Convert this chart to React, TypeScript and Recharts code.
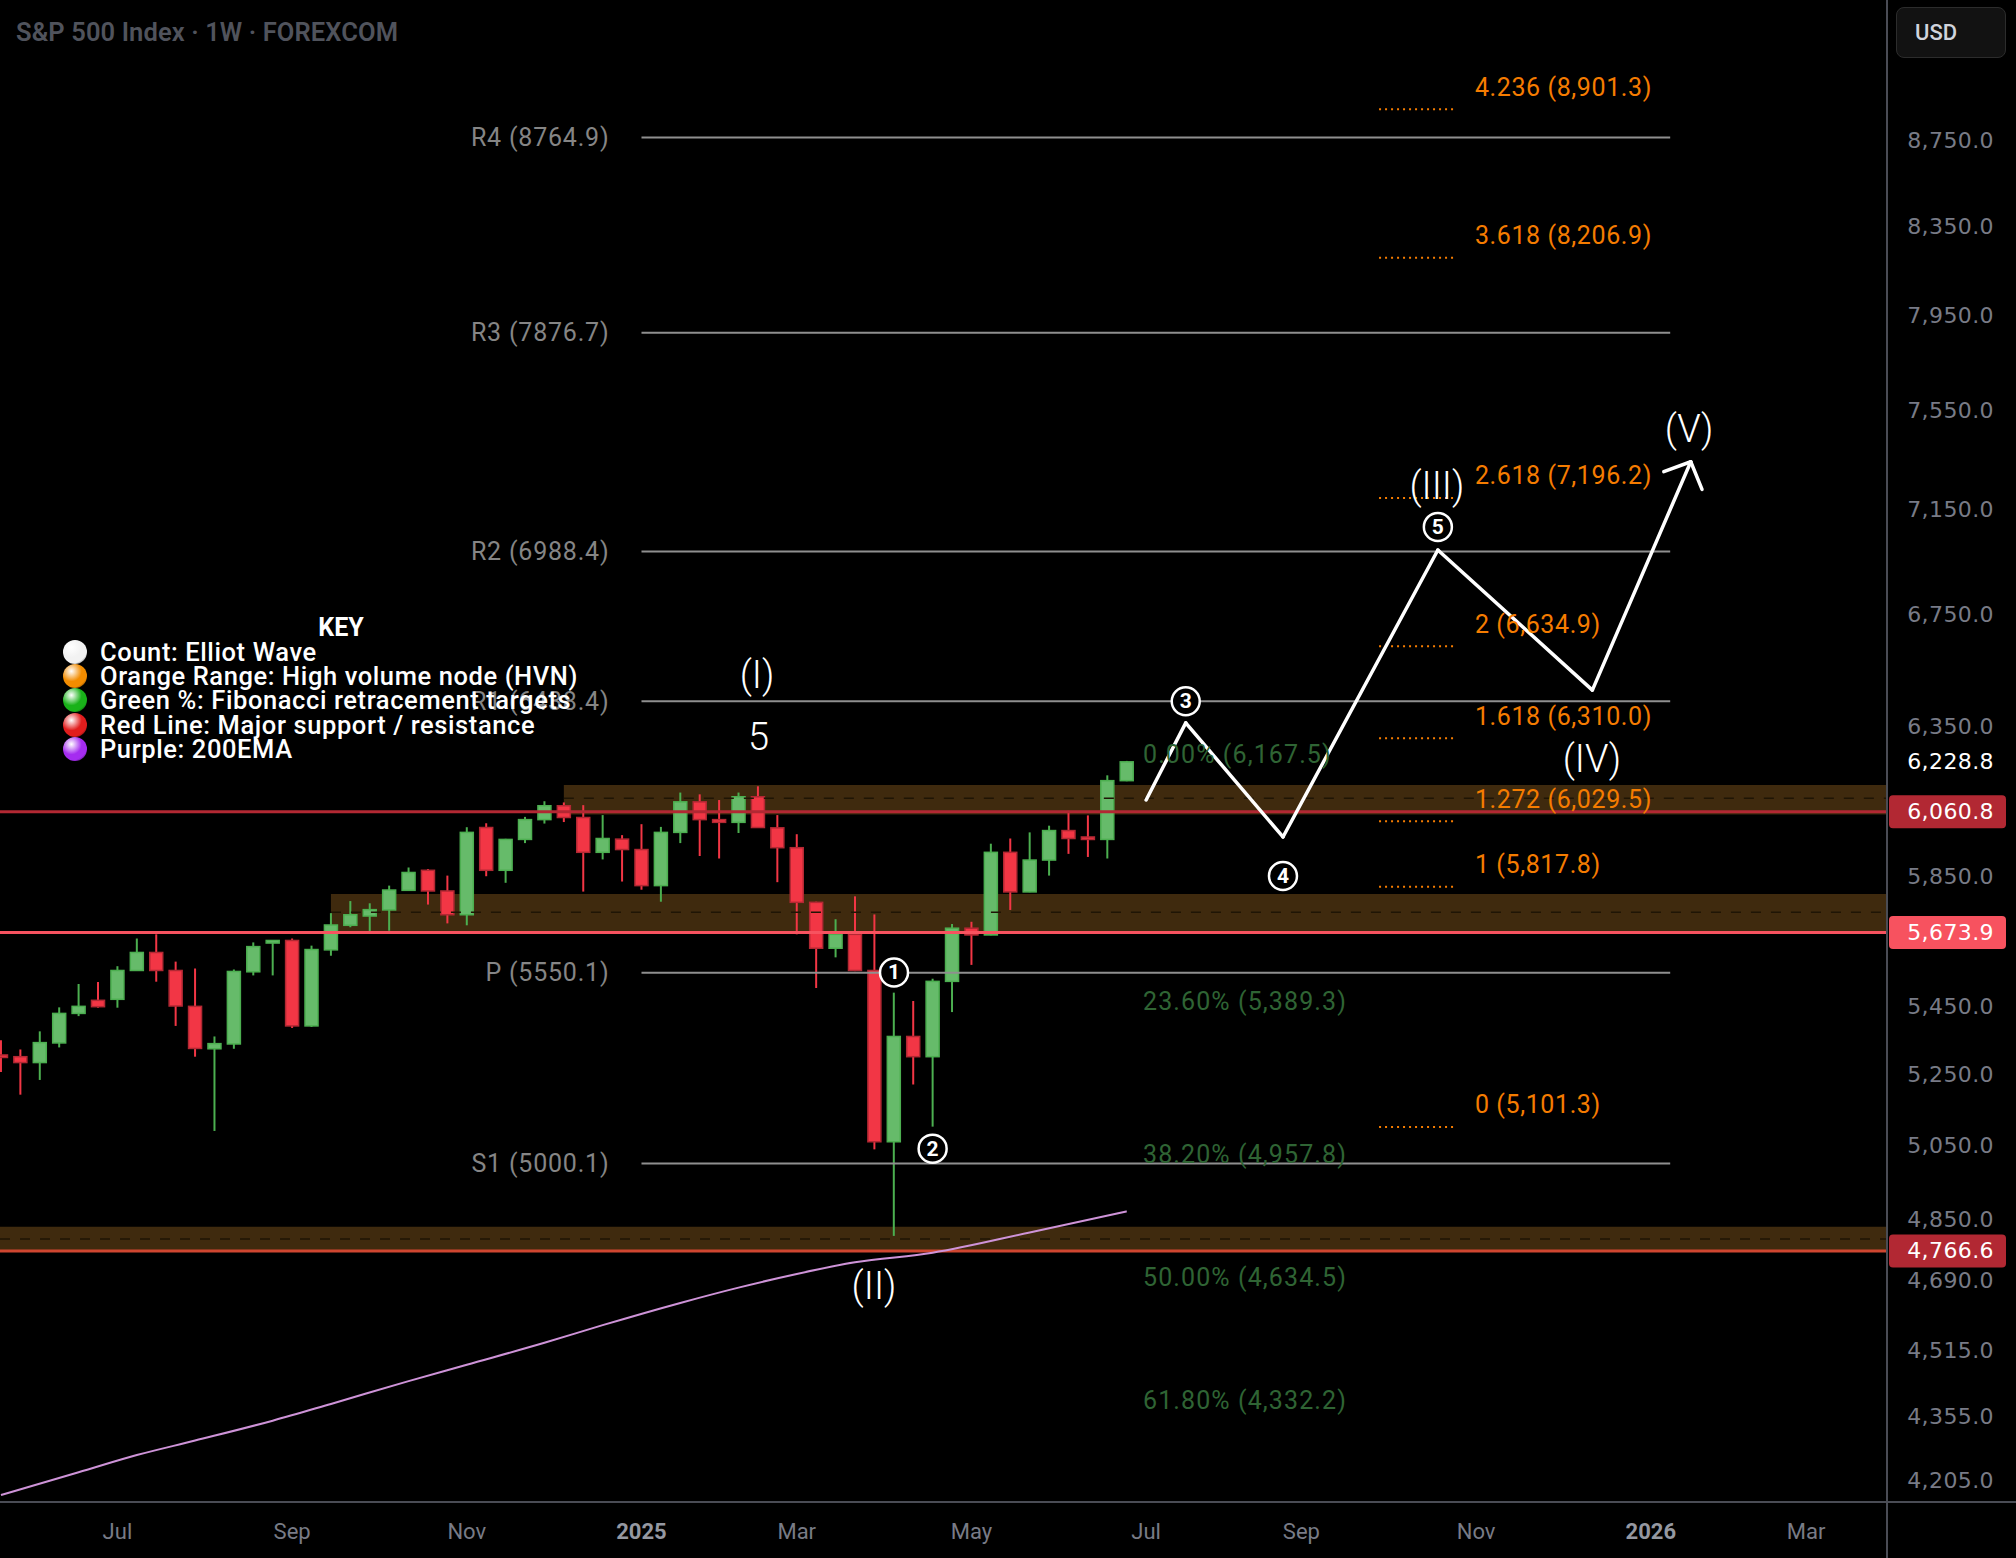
import React from 'react';
import {
  Bar,
  ComposedChart,
  Line,
  ReferenceArea,
  ReferenceLine,
  Scatter,
  XAxis,
  YAxis,
} from 'recharts';

// weekly candles, week 0 = 20 May 2024 ... week 58 = 30 Jun 2025
const opens = [
  5306, 5301, 5284, 5341, 5428, 5467, 5470, 5557, 5612, 5557, 5449, 5324, 5338, 5553, 5641,
  5649, 5391, 5620, 5696, 5725, 5744, 5806, 5870, 5804, 5729, 6009, 5870, 5970, 6035, 6081,
  6042, 5928, 5971, 5937, 5821, 5993, 6094, 6035, 6026, 6111, 6008, 5943, 5768, 5625, 5668,
  5557, 5060, 5360, 5301, 5524, 5687, 5666, 5928, 5801, 5903, 5999, 5978, 5970, 6165,
];
const highs = [
  5349, 5322, 5375, 5446, 5516, 5522, 5570, 5655, 5668, 5584, 5563, 5360, 5560, 5643, 5650,
  5655, 5633, 5734, 5772, 5765, 5821, 5879, 5874, 5853, 6010, 6023, 5972, 6044, 6096, 6092,
  6083, 6050, 5984, 6020, 6011, 6125, 6119, 6100, 6125, 6146, 6050, 5987, 5770, 5715, 5787,
  5730, 5490, 5465, 5532, 5700, 5707, 5956, 5973, 5993, 6015, 6064, 6049, 6183, 6232,
];
const lows = [
  5257, 5192, 5234, 5328, 5420, 5445, 5445, 5556, 5523, 5391, 5301, 5090, 5324, 5542, 5542,
  5385, 5388, 5602, 5690, 5674, 5679, 5805, 5761, 5702, 5696, 5851, 5830, 5958, 6022, 6027,
  5802, 5905, 5834, 5808, 5770, 5958, 5916, 5908, 5991, 6008, 5832, 5668, 5504, 5597, 5555,
  5039, 4806, 5221, 5102, 5432, 5574, 5665, 5744, 5800, 5853, 5923, 5913, 5908, 6163,
];
const closes = [
  5303, 5284, 5342, 5428, 5449, 5448, 5557, 5612, 5557, 5450, 5325, 5339, 5554, 5630, 5649,
  5391, 5621, 5697, 5729, 5745, 5807, 5863, 5804, 5729, 5993, 5870, 5970, 6035, 6081, 6042,
  5928, 5973, 5937, 5821, 5993, 6094, 6035, 6026, 6111, 6009, 5943, 5768, 5625, 5668, 5557,
  5060, 5360, 5301, 5524, 5687, 5666, 5928, 5801, 5903, 5999, 5973, 5975, 6165, 6228.8,
];

const monthTicks = [6, 15, 24, 33, 41, 50, 59, 67, 76, 85, 93];
const monthLabels = ['Jul', 'Sep', 'Nov', '2025', 'Mar', 'May', 'Jul', 'Sep', 'Nov', '2026', 'Mar'];

const priceTicks = [
  8750, 8350, 7950, 7550, 7150, 6750, 6350, 5850, 5450, 5250, 5050, 4850, 4690, 4515, 4355, 4205,
];

// 200 EMA
const emaWeeks = [0, 4, 7, 10, 14, 17, 21, 24, 28, 31, 35, 38, 41, 44, 48, 53, 58];
const emaValues = [
  4171, 4223, 4263, 4297, 4344, 4384, 4439, 4479, 4533, 4577, 4633, 4672, 4707, 4737, 4762, 4815,
  4871,
];

// projected elliott wave path
const waveWeeks = [59, 61.04, 66.05, 74.03, 81.99, 87.06];
const waveValues = [6100, 6363, 5978, 6994, 6478, 7340];
const arrowWeeks = [85.67, 87.06, 87.64];
const arrowValues = [7300, 7340, 7230];

const pivotNames = ['R4', 'R3', 'R2', 'R1', 'P', 'S1'];
const pivotValues = [8764.9, 7876.7, 6988.4, 6438.4, 5550.1, 5000.1];
const pivotFrom = 33;
const pivotTo = 86;

const redLevels = [6060.8, 5673.9, 4766.6];
const lastPrice = 6228.8;

const hvnFrom = [29, 17, -0.05];
const hvnLow = [6052, 5675, 4768];
const hvnHigh = [6150, 5794, 4830];
const hvnMid = [6106, 5737, 4798];

const retraceNames = ['0.00%', '23.60%', '38.20%', '50.00%', '61.80%'];
const retraceValues = [6167.5, 5389.3, 4957.8, 4634.5, 4332.2];

const extNames = ['4.236', '3.618', '2.618', '2', '1.618', '1.272', '1', '0'];
const extValues = [8901.3, 8206.9, 7196.2, 6634.9, 6310.0, 6029.5, 5817.8, 5101.3];

const waveNames = ['(I)', '5', '(II)', '(III)', '(IV)', '(V)'];
const waveLabelWeeks = [38.95, 39.03, 44.98, 73.98, 81.97, 86.97];
const waveLabelValues = [6531, 6315, 4677, 7243, 6240, 7471];

const countNames = ['1', '2', '3', '4', '5'];
const countWeeks = [46.01, 48.0, 61.04, 66.05, 74.03];
const countValues = [5551, 5041, 6439, 5852, 7083];

const keyItems = [
  { text: 'Count: Elliot Wave', color: '#f2f2f2' },
  { text: 'Orange Range: High volume node (HVN)', color: '#f28c00' },
  { text: 'Green %: Fibonacci retracement targets', color: '#19b219' },
  { text: 'Red Line: Major support / resistance', color: '#e11d1d' },
  { text: 'Purple: 200EMA', color: '#a52cf0' },
];

const X_DOMAIN: [number, number] = [-0.05, 97.17];
const Y_DOMAIN: [number, number] = [4155, 9449];

const candles = opens.map((o, i) => ({
  i,
  o,
  h: highs[i],
  l: lows[i],
  c: closes[i],
  range: [lows[i], highs[i]],
}));
const emaData = emaWeeks.map((i, k) => ({ i, v: emaValues[k] }));
const toPoints = (xs: number[], ys: number[]) => xs.map((x, k) => ({ x, y: ys[k] }));
const wavePoints = toPoints(waveWeeks, waveValues);
const arrowPoints = toPoints(arrowWeeks, arrowValues);
const pivotLabelData = pivotNames.map((n, k) => ({
  i: 31.35,
  v: pivotValues[k],
  text: `${n} (${pivotValues[k].toFixed(1)})`,
}));
const fmt = (v: number) =>
  v.toLocaleString('en-US', { minimumFractionDigits: 1, maximumFractionDigits: 1 });
const retraceData = retraceNames.map((n, k) => ({
  i: 58.84,
  v: retraceValues[k],
  text: `${n} (${fmt(retraceValues[k])})`,
}));
const extData = extNames.map((n, k) => ({
  i: 75.94,
  v: extValues[k],
  text: `${n} (${fmt(extValues[k])})`,
}));
const waveLabelData = waveNames.map((n, k) => ({
  i: waveLabelWeeks[k],
  v: waveLabelValues[k],
  text: n,
}));
const countData = countNames.map((n, k) => ({ i: countWeeks[k], v: countValues[k], text: n }));

const UP = '#66bb6a';
const UP_EDGE = '#4caf50';
const DOWN = '#f23645';
const DOWN_EDGE = '#b22833';
const BODY_W = 13;
const AXIS_TEXT = '#787b86';
const LABEL_FONT = 'Roboto, "DejaVu Sans", sans-serif';
const AXIS_FONT = '"DejaVu Sans", sans-serif';

const Candle = (props: any) => {
  const { x, y, width, height, payload } = props;
  if (!payload || height == null) return null;
  const { o, h, l, c } = payload;
  const span = Math.log(h) - Math.log(l) || 1;
  const toY = (v: number) => y + (height * (Math.log(h) - Math.log(v))) / span;
  const up = c >= o;
  const mid = x + (width || 0) / 2;
  const top = toY(Math.max(o, c));
  const bottom = toY(Math.min(o, c));
  return (
    <g>
      <line x1={mid} x2={mid} y1={y} y2={y + height} stroke={up ? UP_EDGE : DOWN} strokeWidth={2} />
      <rect
        x={mid - BODY_W / 2}
        y={top}
        width={BODY_W}
        height={Math.max(bottom - top, 2.5)}
        fill={up ? UP : DOWN}
        stroke={up ? UP_EDGE : DOWN_EDGE}
        strokeWidth={1.5}
      />
    </g>
  );
};

const textMark =
  (fill: string, size: number, anchor: 'start' | 'middle' | 'end', dy: number, weight = 400, spacing = 0) =>
  (props: any) => (
    <text
      x={props.cx}
      y={props.cy + dy}
      fill={fill}
      fontSize={size}
      fontWeight={weight}
      fontFamily={LABEL_FONT}
      letterSpacing={spacing}
      textAnchor={anchor}
      dominantBaseline="central"
    >
      {props.payload.text}
    </text>
  );

const CountMark = (props: any) => (
  <g>
    <circle cx={props.cx} cy={props.cy} r={14} fill="#000" stroke="#fff" strokeWidth={2.5} />
    <text
      x={props.cx}
      y={props.cy}
      fill="#fff"
      fontSize={21}
      fontWeight={700}
      fontFamily={LABEL_FONT}
      textAnchor="middle"
      dominantBaseline="central"
    >
      {props.payload.text}
    </text>
  </g>
);

const PriceTick = ({ y, payload }: any) => (
  <text
    x={1994}
    y={y}
    fill={AXIS_TEXT}
    fontSize={22}
    fontFamily={AXIS_FONT}
    letterSpacing={0.4}
    textAnchor="end"
    dominantBaseline="central"
  >
    {fmt(payload.value)}
  </text>
);

const MonthTick = ({ x, payload }: any) => {
  const label = monthLabels[monthTicks.indexOf(payload.value)] ?? '';
  const year = /^\d{4}$/.test(label);
  return (
    <text
      x={x}
      y={1531}
      fill={year ? '#9598a1' : AXIS_TEXT}
      fontSize={22}
      fontWeight={year ? 700 : 400}
      fontFamily={LABEL_FONT}
      textAnchor="middle"
      dominantBaseline="central"
    >
      {label}
    </text>
  );
};

const AxisBadge = ({ viewBox, value, bg }: any) => {
  if (!viewBox) return null;
  const right = viewBox.x + viewBox.width;
  const cy = viewBox.y;
  return (
    <g>
      {bg && <rect x={right + 2} y={cy - 16.5} width={117} height={33} rx={4} fill={bg} />}
      <text
        x={1994}
        y={cy}
        fill="#ffffff"
        fontSize={22}
        fontFamily={AXIS_FONT}
        letterSpacing={0.4}
        textAnchor="end"
        dominantBaseline="central"
      >
        {fmt(value)}
      </text>
    </g>
  );
};

const redColors = ['#b22833', '#f7525f', '#cf4630'];
const badgeColors = ['#b22833', '#f7525f', '#b22833'];

export default function App() {
  return (
    <div
      style={{
        position: 'absolute',
        left: 0,
        top: 0,
        width: 2016,
        height: 1558,
        background: '#000',
        overflow: 'hidden',
      }}
    >
      <ComposedChart
        width={2016}
        height={1558}
        data={candles}
        margin={{ top: 0, right: 0, bottom: 0, left: 0 }}
      >
        <XAxis
          type="number"
          dataKey="i"
          domain={X_DOMAIN}
          ticks={monthTicks}
          allowDataOverflow
          height={56}
          axisLine={{ stroke: '#4a4c55', strokeWidth: 2 }}
          tickLine={false}
          tick={<MonthTick />}
        />
        <YAxis
          orientation="right"
          scale="log"
          type="number"
          domain={Y_DOMAIN}
          ticks={priceTicks}
          allowDataOverflow
          width={129}
          axisLine={{ stroke: '#4a4c55', strokeWidth: 2 }}
          tickLine={false}
          tick={<PriceTick />}
        />

        {hvnFrom.map((from, k) => (
          <ReferenceArea
            key={`hvn-${k}`}
            x1={from}
            x2={X_DOMAIN[1]}
            y1={hvnLow[k]}
            y2={hvnHigh[k]}
            fill="#3f2a0e"
            fillOpacity={1}
            stroke="none"
            ifOverflow="hidden"
          />
        ))}
        {hvnFrom.map((from, k) => (
          <ReferenceLine
            key={`hvn-mid-${k}`}
            segment={[
              { x: from, y: hvnMid[k] },
              { x: X_DOMAIN[1], y: hvnMid[k] },
            ]}
            stroke="#1f1505"
            strokeWidth={1.5}
            strokeDasharray="10 10"
            ifOverflow="hidden"
          />
        ))}

        {pivotValues.map((v, k) => (
          <ReferenceLine
            key={`pivot-${k}`}
            segment={[
              { x: pivotFrom, y: v },
              { x: pivotTo, y: v },
            ]}
            stroke="#8f8f8f"
            strokeWidth={2}
          />
        ))}

        {extValues.map((v, k) => (
          <ReferenceLine
            key={`ext-${k}`}
            segment={[
              { x: 71, y: v },
              { x: 74.9, y: v },
            ]}
            stroke="#f57c00"
            strokeWidth={2}
            strokeDasharray="2 4"
          />
        ))}

        {redLevels.map((v, k) => (
          <ReferenceLine key={`red-${k}`} y={v} stroke={redColors[k]} strokeWidth={3} />
        ))}

        <Line
          data={emaData}
          dataKey="v"
          type="monotone"
          stroke="#ce93d8"
          strokeWidth={2}
          dot={false}
          activeDot={false}
          isAnimationActive={false}
        />

        <Bar dataKey="range" barSize={14} shape={<Candle />} isAnimationActive={false} />

        <Scatter
          data={pivotLabelData}
          dataKey="v"
          shape={textMark('#858585', 25, 'end', 0, 400, 0.8)}
          isAnimationActive={false}
        />
        <Scatter
          data={retraceData}
          dataKey="v"
          shape={textMark('#2f6434', 25, 'start', -25, 400, 1.1)}
          isAnimationActive={false}
        />
        <Scatter
          data={extData}
          dataKey="v"
          shape={textMark('#f57c00', 25, 'start', -22, 400, 0.6)}
          isAnimationActive={false}
        />
        <Scatter
          data={waveLabelData}
          dataKey="v"
          shape={textMark('#ffffff', 38, 'middle', 0, 300)}
          isAnimationActive={false}
        />

        {wavePoints.slice(1).map((p, k) => (
          <ReferenceLine
            key={`wave-${k}`}
            segment={[wavePoints[k], p]}
            stroke="#ffffff"
            strokeWidth={3.5}
            strokeLinecap="round"
          />
        ))}
        {arrowPoints.slice(1).map((p, k) => (
          <ReferenceLine
            key={`arrow-${k}`}
            segment={[arrowPoints[k], p]}
            stroke="#ffffff"
            strokeWidth={3.5}
            strokeLinecap="round"
          />
        ))}
        <Scatter data={countData} dataKey="v" shape={<CountMark />} isAnimationActive={false} />

        <ReferenceLine y={lastPrice} stroke="none" label={<AxisBadge value={lastPrice} />} />
        {redLevels.map((v, k) => (
          <ReferenceLine
            key={`badge-${k}`}
            y={v}
            stroke="none"
            label={<AxisBadge value={v} bg={badgeColors[k]} />}
          />
        ))}
      </ComposedChart>

      <div
        style={{
          position: 'absolute',
          left: 16,
          top: 16,
          fontFamily: LABEL_FONT,
          fontSize: 25.5,
          fontWeight: 600,
          color: '#50535c',
          lineHeight: '32px',
          letterSpacing: 0.1,
          whiteSpace: 'nowrap',
        }}
      >
        S&amp;P 500 Index · 1W · FOREXCOM
      </div>

      <div
        style={{
          position: 'absolute',
          left: 1896,
          top: 7,
          width: 110,
          height: 51,
          boxSizing: 'border-box',
          border: '1px solid #2c2c2c',
          background: '#121212',
          borderRadius: 8,
          color: '#d1d4dc',
          fontFamily: LABEL_FONT,
          fontSize: 22,
          fontWeight: 500,
          lineHeight: '49px',
          paddingLeft: 18,
        }}
      >
        USD
      </div>

      <div
        style={{
          position: 'absolute',
          left: 1886,
          top: 1502,
          width: 2,
          height: 56,
          background: '#4a4c55',
        }}
      />
      <div
        style={{
          position: 'absolute',
          left: 1887,
          top: 1501,
          width: 129,
          height: 2,
          background: '#4a4c55',
        }}
      />

      <div
        style={{
          position: 'absolute',
          left: 241,
          top: 614,
          width: 200,
          textAlign: 'center',
          fontFamily: LABEL_FONT,
          fontSize: 25,
          fontWeight: 700,
          color: '#fff',
          lineHeight: '28px',
        }}
      >
        KEY
      </div>
      {keyItems.map((item, k) => (
        <div
          key={item.text}
          style={{
            position: 'absolute',
            left: 63,
            top: 640 + k * 24.2,
            height: 24,
            display: 'flex',
            alignItems: 'center',
            whiteSpace: 'nowrap',
          }}
        >
          <div
            style={{
              width: 24,
              height: 24,
              borderRadius: '50%',
              background: `radial-gradient(circle at 35% 30%, #ffffff 0%, ${item.color} 45%, ${item.color} 70%, #000000aa 100%)`,
              marginRight: 13,
            }}
          />
          <span
            style={{
              fontFamily: LABEL_FONT,
              fontSize: 25.5,
              fontWeight: 500,
              color: '#fff',
              letterSpacing: 0.6,
              lineHeight: '24px',
            }}
          >
            {item.text}
          </span>
        </div>
      ))}
    </div>
  );
}
